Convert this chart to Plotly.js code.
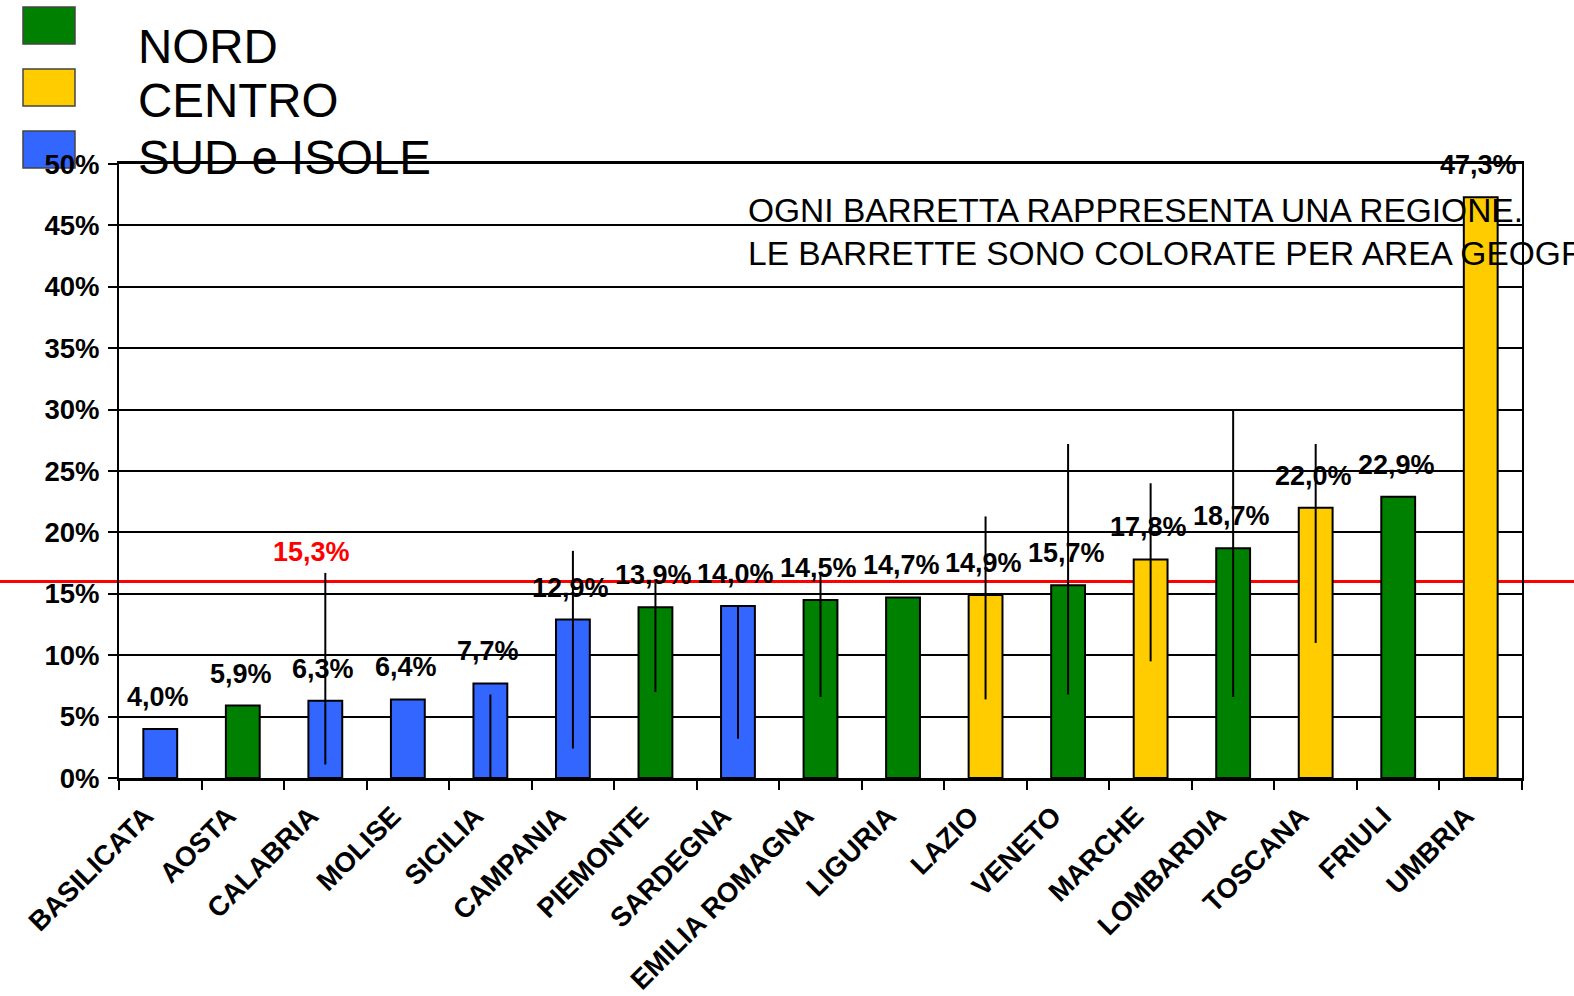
<!DOCTYPE html>
<html>
<head>
<meta charset="utf-8">
<script src="https://cdn.plot.ly/plotly-3.0.1.min.js"></script>
<style>html,body{margin:0;padding:0;background:#fff;}#chart{width:1574px;height:996px;}</style>
</head>
<body>
<div id="chart"></div>
<script>
// ---- data ----
const regions = ['BASILICATA','AOSTA','CALABRIA','MOLISE','SICILIA','CAMPANIA','PIEMONTE','SARDEGNA','EMILIA ROMAGNA','LIGURIA','LAZIO','VENETO','MARCHE','LOMBARDIA','TOSCANA','FRIULI','UMBRIA'];
const values = [4.0, 5.9, 6.3, 6.4, 7.7, 12.9, 13.9, 14.0, 14.5, 14.7, 14.9, 15.7, 17.8, 18.7, 22.0, 22.9, 47.3];
const areas = ['SUD','NORD','SUD','SUD','SUD','SUD','NORD','SUD','NORD','NORD','CENTRO','NORD','CENTRO','NORD','CENTRO','NORD','CENTRO'];
const errLow  = [null, null, 1.1, null, 0.0, 2.4, 7.0, 3.2, 6.6, null, 6.4, 6.8, 9.5, 6.6, 11.0, null, null];
const errHigh = [null, null, 16.7, null, 6.8, 18.5, 15.9, 14.0, 16.7, null, 21.3, 27.2, 24.0, 29.9, 27.2, null, null];
const legendNames = ['NORD','CENTRO','SUD e ISOLE'];
const legendKeys = ['NORD','CENTRO','SUD'];
const refValue = 16.0;
const refLabel = '15,3%';
const noteLines = ['OGNI BARRETTA RAPPRESENTA UNA REGIONE.', 'LE BARRETTE SONO COLORATE PER AREA GEOGRAFICA'];

// ---- style ----
const areaColors = {NORD:'#008000', CENTRO:'#FFCC00', SUD:'#3366FF'};
const FONT = 'Liberation Sans, Arial, sans-serif';
const W = 1574, H = 996;
const M = {l:119, r:52, t:164, b:218};
const pw = W - M.l - M.r, ph = H - M.t - M.b;
const px = v => (v - M.l) / pw;
const py = v => (H - M.b - v) / ph;

const fmt = v => v.toFixed(1).replace('.', ',') + '%';

// error lines built from low/high arrays
const ex = [], ey = [];
regions.forEach((r, i) => {
  if (errLow[i] !== null && errHigh[i] !== null) {
    ex.push(r, r, null);
    ey.push(errLow[i], errHigh[i], null);
  }
});

const traces = [
  {
    type: 'bar', x: regions, y: values,
    marker: {color: areas.map(a => areaColors[a]), line: {color: '#000', width: 2}},
    hoverinfo: 'x+y', showlegend: false
  },
  {
    type: 'scatter', mode: 'lines', x: ex, y: ey,
    line: {color: '#000', width: 2}, connectgaps: false,
    hoverinfo: 'skip', showlegend: false
  }
];

const annotations = [];
regions.forEach((r, i) => {
  annotations.push({
    x: r, y: values[i], xref: 'x', yref: 'y', text: '<b>' + fmt(values[i]) + '</b>',
    showarrow: false, yanchor: 'middle', xanchor: 'center', yshift: 32, xshift: -2,
    font: {family: FONT, size: 27, color: '#000'}
  });
});
annotations.push({
  x: regions[2], y: refValue, xref: 'x', yref: 'y', text: '<b>' + refLabel + '</b>',
  showarrow: false, yanchor: 'middle', xanchor: 'center', yshift: 30, xshift: -14,
  font: {family: FONT, size: 27, color: '#FF0000'}
});
const legendY = [47, 101, 157];
legendNames.forEach((n, i) => {
  annotations.push({
    x: px(136), y: py(legendY[i]), xref: 'paper', yref: 'paper', text: n,
    showarrow: false, xanchor: 'left', yanchor: 'middle',
    font: {family: FONT, size: 47.5, color: '#000'}
  });
});
const noteY = [210, 254];
noteLines.forEach((t, i) => {
  annotations.push({
    x: px(746), y: py(noteY[i]), xref: 'paper', yref: 'paper', text: t,
    showarrow: false, xanchor: 'left', yanchor: 'middle',
    font: {family: FONT, size: 33.5, color: '#000'}
  });
});

const shapes = [
  {type: 'line', xref: 'paper', yref: 'y', x0: px(0), x1: px(W), y0: refValue, y1: refValue,
   line: {color: '#FF0000', width: 3}, layer: 'below'}
];
const sqTop = [7, 69, 131];
legendKeys.forEach((k, i) => {
  shapes.push({
    type: 'rect', xref: 'paper', yref: 'paper', x0: px(23), x1: px(75), y0: py(sqTop[i] + 37), y1: py(sqTop[i]),
    fillcolor: areaColors[k], line: {color: '#444', width: 1.5}, layer: 'below'
  });
});

const layout = {
  width: W, height: H,
  margin: M,
  paper_bgcolor: '#fff', plot_bgcolor: '#fff',
  showlegend: false,
  bargap: 0.59,
  font: {family: FONT, color: '#000'},
  xaxis: {
    type: 'category', tickangle: -45,
    tickfont: {family: FONT, size: 27.5, weight: 'bold', color: '#000'},
    ticks: 'outside', tickson: 'boundaries', ticklen: 9, tickwidth: 2, tickcolor: '#000',
    ticklabelstandoff: 8, ticklabelshift: -15,
    showline: true, linecolor: '#000', linewidth: 3, mirror: true,
    showgrid: false, zeroline: false, fixedrange: true
  },
  yaxis: {
    range: [0, 50], dtick: 5, ticksuffix: '%',
    tickfont: {family: FONT, size: 27.5, weight: 'bold', color: '#000'},
    ticks: 'outside', ticklen: 9, tickwidth: 2, tickcolor: '#000',
    ticklabelstandoff: 3,
    showline: true, linecolor: '#000', linewidth: 2, mirror: true,
    showgrid: true, gridcolor: '#000', gridwidth: 2, zeroline: false, fixedrange: true
  },
  annotations: annotations,
  shapes: shapes
};

Plotly.newPlot('chart', traces, layout, {displayModeBar: false, staticPlot: true});
</script>
</body>
</html>
